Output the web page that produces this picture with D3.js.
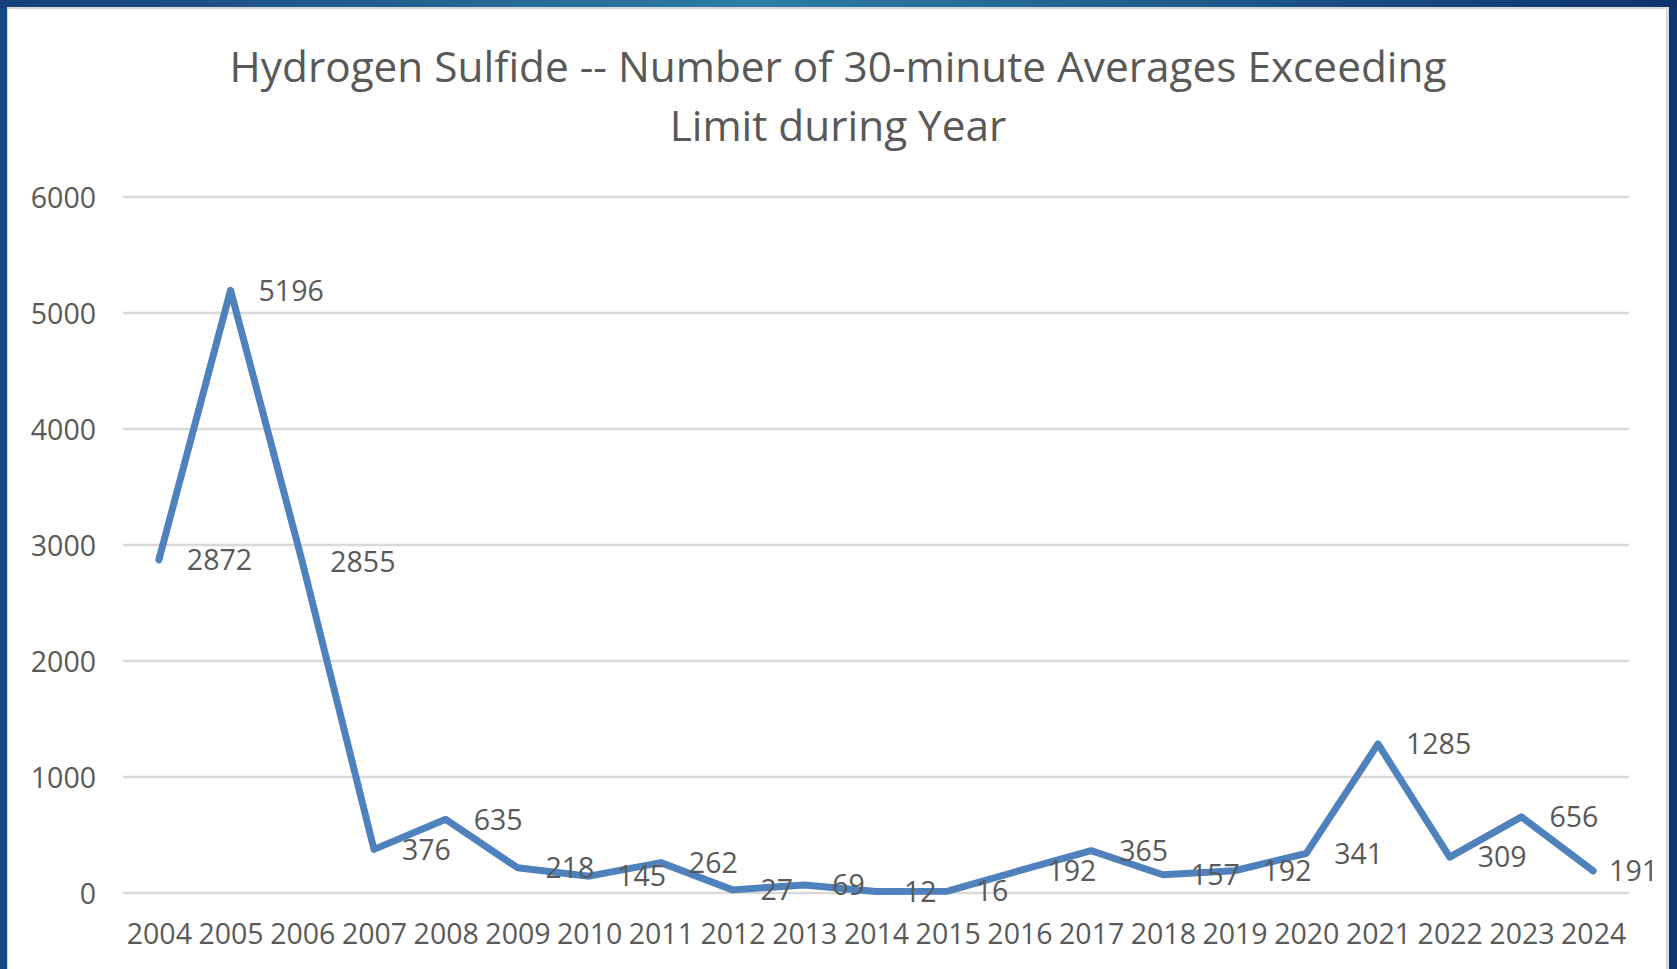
<!DOCTYPE html>
<html>
<head>
<meta charset="utf-8">
<script src="https://cdn.jsdelivr.net/npm/d3@7"></script>
<style>
  html, body { margin: 0; padding: 0; background: #ffffff; overflow: hidden; }
  svg { display: block; }
</style>
</head>
<body>
<script>
// data
const years = ['2004', '2005', '2006', '2007', '2008', '2009', '2010', '2011', '2012', '2013', '2014',
  '2015', '2016', '2017', '2018', '2019', '2020', '2021', '2022', '2023', '2024']
const exceedances = [2872, 5196, 2855, 376, 635, 218, 145, 262, 27, 69, 12,
  16, 192, 365, 157, 192, 341, 1285, 309, 656, 191]
const yTicks = [0, 1000, 2000, 3000, 4000, 5000, 6000]
const titleLines = ['Hydrogen Sulfide -- Number of 30-minute Averages Exceeding', 'Limit during Year']

function buildChart () {
  // size of the page
  let width = 1677
  let height = 969
  let font = '"Open Sans", "Noto Sans", sans-serif'
  let textColor = '#595959'
  let labelSize = 28.5

  let svg = d3.select('body')
    .append('svg')
    .attr('width', width)
    .attr('height', height)

  // dark blue slide frame round the chart
  let defs = svg.append('defs')
  let grad = defs.append('linearGradient')
    .attr('id', 'topband')
    .attr('x1', '0%').attr('x2', '100%')
  grad.append('stop').attr('offset', '0%').attr('stop-color', '#163f7c')
  grad.append('stop').attr('offset', '45%').attr('stop-color', '#2e7ea3')
  grad.append('stop').attr('offset', '100%').attr('stop-color', '#0e3270')

  svg.append('rect').attr('x', 0).attr('y', 0).attr('width', width).attr('height', height)
    .attr('fill', '#0f3571')
  svg.append('rect').attr('x', 0).attr('y', 0).attr('width', width).attr('height', 8)
    .attr('fill', 'url(#topband)')
  svg.append('rect').attr('x', 0).attr('y', 8).attr('width', 7).attr('height', height)
    .attr('fill', '#17477f')
  // chart area with a thin grey edge
  svg.append('rect').attr('x', 7).attr('y', 7).attr('width', 1662).attr('height', height)
    .attr('fill', '#d9d9d9')
  svg.append('rect').attr('x', 8).attr('y', 9).attr('width', 1658).attr('height', height)
    .attr('fill', '#ffffff')

  let plotLeft = 123
  let plotRight = 1629
  let plotTop = 197
  let plotBottom = 893
  let chartRight = 1658

  let x = d3.scalePoint()
    .domain(years)
    .range([plotLeft, plotRight])
    .padding(0.5)

  let y = d3.scaleLinear()
    .domain([0, 6000])
    .range([plotBottom, plotTop])

  // title, sized so the first line spans like the original
  let title = svg.append('text')
    .attr('x', 838)
    .attr('text-anchor', 'middle')
    .attr('font-family', font)
    .attr('font-size', 40)
    .attr('fill', textColor)
  title.selectAll('tspan')
    .data(titleLines)
    .enter()
    .append('tspan')
    .attr('x', 838)
    .attr('y', function (d, i) { return 82 + i * 59 })
    .text(function (d) { return d })
  let firstLen = title.select('tspan').node().getComputedTextLength()
  title.attr('font-size', 40 * 1217 / firstLen)

  // gridlines
  svg.append('g')
    .selectAll('line')
    .data(yTicks)
    .enter()
    .append('line')
    .attr('x1', plotLeft)
    .attr('x2', plotRight)
    .attr('y1', function (d) { return y(d) })
    .attr('y2', function (d) { return y(d) })
    .attr('stroke', '#d9d9d9')
    .attr('stroke-width', 2.5)

  // y axis labels
  let yAxis = svg.append('g')
    .attr('transform', 'translate(' + (plotLeft - 27) + ',0)')
    .call(d3.axisLeft(y).tickValues(yTicks).tickFormat(d3.format('d')).tickSize(0).tickPadding(0))
  yAxis.select('.domain').remove()
  yAxis.selectAll('text')
    .attr('font-family', font)
    .attr('font-size', labelSize)
    .attr('fill', textColor)
    .attr('dy', '0.36em')

  // x axis labels
  let xAxis = svg.append('g')
    .attr('transform', 'translate(0,' + plotBottom + ')')
    .call(d3.axisBottom(x).tickSize(0).tickPadding(0))
  xAxis.select('.domain').remove()
  xAxis.selectAll('text')
    .attr('font-family', font)
    .attr('font-size', labelSize)
    .attr('fill', textColor)
    .attr('dy', '0')
    .attr('y', 51)

  // the series line
  let line = d3.line()
    .x(function (d, i) { return x(years[i]) })
    .y(function (d) { return y(d) })

  svg.append('path')
    .datum(exceedances)
    .attr('d', line)
    .attr('fill', 'none')
    .attr('stroke', '#4f81bd')
    .attr('stroke-width', 7)
    .attr('stroke-linejoin', 'round')
    .attr('stroke-linecap', 'round')

  // value labels to the right of each point, kept inside the chart area
  svg.append('g')
    .selectAll('text')
    .data(exceedances)
    .enter()
    .append('text')
    .attr('x', function (d, i) { return x(years[i]) + 28 })
    .attr('y', function (d) { return y(d) })
    .attr('dy', '0.36em')
    .attr('font-family', font)
    .attr('font-size', labelSize)
    .attr('fill', textColor)
    .text(function (d) { return d })
    .each(function () {
      let box = this.getBBox()
      if (box.x + box.width > chartRight) {
        d3.select(this).attr('x', chartRight - box.width)
      }
    })
}

buildChart()
</script>
</body>
</html>
